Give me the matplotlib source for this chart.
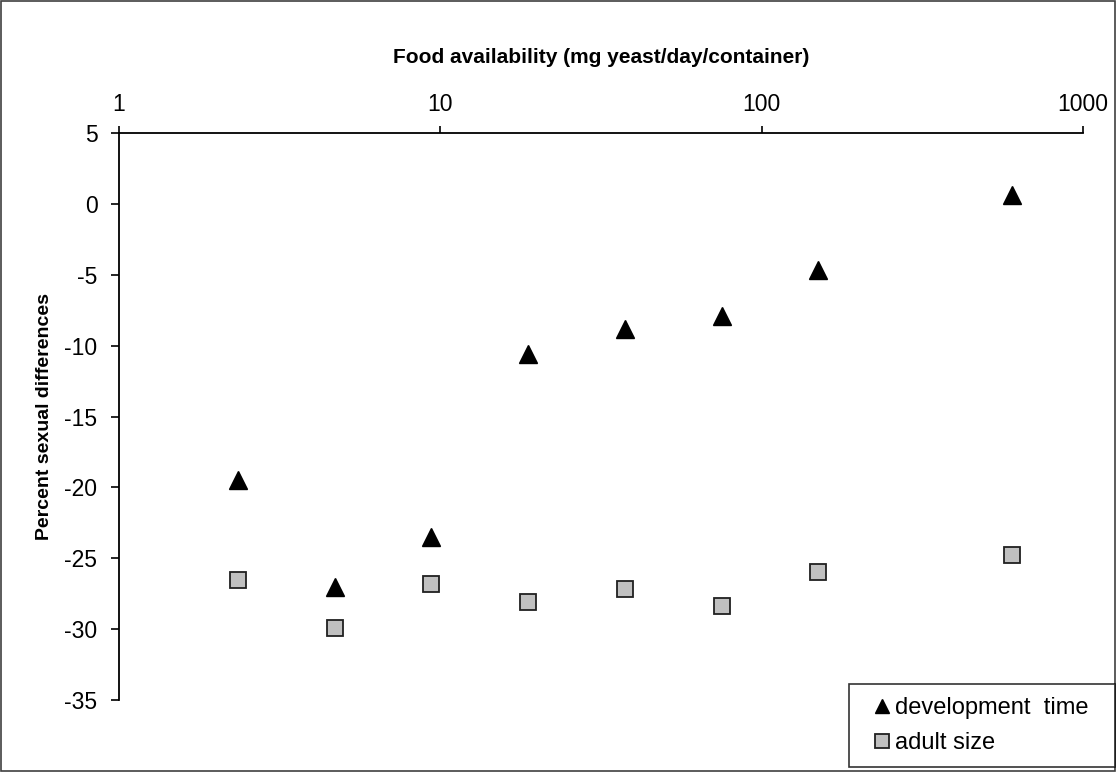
import matplotlib
matplotlib.use("Agg")
import matplotlib.pyplot as plt
from matplotlib.patches import Rectangle
from matplotlib.ticker import FixedLocator, FixedFormatter, NullLocator

plt.rcParams["font.family"] = ["Liberation Sans", "DejaVu Sans"]

# Data
food = [2.34, 4.69, 9.38, 18.75, 37.5, 75, 150, 600]
dev_time = [-19.5, -27.0, -23.5, -10.6, -8.8, -7.9, -4.7, 0.6]
adult_size = [-26.5, -29.9, -26.8, -28.1, -27.2, -28.4, -26.0, -24.8]

x_ticks = [1, 10, 100, 1000]
x_tick_labels = ["1", "10", "100", "1000"]
y_ticks = [-35, -30, -25, -20, -15, -10, -5, 0, 5]

fig = plt.figure(figsize=(11.16, 7.72), dpi=100)
ax = fig.add_axes([119 / 1116, 72 / 772, 964 / 1116, 567 / 772])

ax.plot(food, dev_time, linestyle="none", marker="^", markersize=12.5,
        color="black", label="development  time  ")
ax.plot(food, adult_size, linestyle="none", marker="s", markersize=11.3,
        markerfacecolor="#c0c0c0", markeredgecolor="#202020",
        markeredgewidth=1.3, label="adult size")

ax.set_xscale("log")
ax.set_xlim(1, 1000)
ax.set_ylim(-35, 5)

ax.xaxis.set_major_locator(FixedLocator(x_ticks))
ax.xaxis.set_major_formatter(FixedFormatter(x_tick_labels))
ax.xaxis.set_minor_locator(NullLocator())
ax.set_yticks(y_ticks)
ax.set_yticklabels([str(v) for v in y_ticks])

ax.xaxis.tick_top()
ax.xaxis.set_label_position("top")
ax.tick_params(axis="x", direction="out", length=5, width=1.2,
               labelsize=16.5, pad=7)
ax.tick_params(axis="y", direction="out", length=5.5, width=1.2,
               labelsize=16.5, pad=10)

for side in ("bottom", "right"):
    ax.spines[side].set_visible(False)
for side in ("top", "left"):
    ax.spines[side].set_linewidth(1.3)

ax.set_xlabel("Food availability (mg yeast/day/container)",
              fontsize=15, fontweight="bold", labelpad=22)
ax.set_ylabel("Percent sexual differences", fontsize=14,
              fontweight="bold", labelpad=8)

leg = fig.legend(loc="lower right", bbox_to_anchor=(1115 / 1116, 5 / 772),
                 fontsize=17, frameon=True, fancybox=False,
                 markerscale=0.85, handlelength=1.65, handletextpad=-0.25,
                 borderpad=0.55, labelspacing=0.55, borderaxespad=0)
leg.get_frame().set_edgecolor("black")
leg.get_frame().set_linewidth(1.2)

# outer chart border
fig.patches.append(Rectangle((0.001, 0.001), 0.998, 0.998,
                             transform=fig.transFigure, fill=False,
                             edgecolor="#404040", linewidth=1.2))

fig.savefig("out.png", dpi=100)
